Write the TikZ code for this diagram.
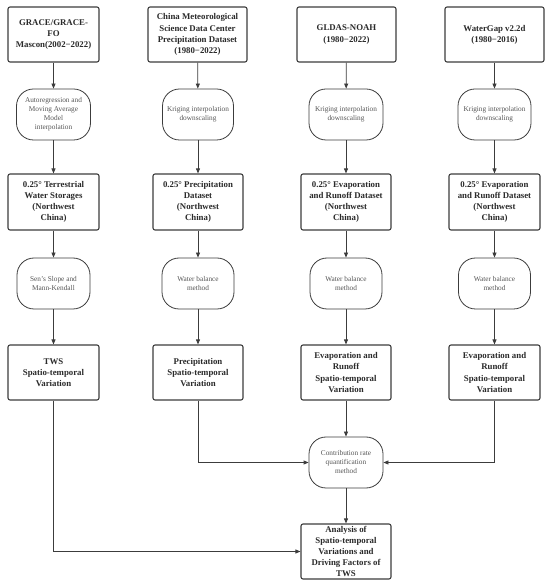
\documentclass[tikz,border=0pt]{standalone}
\usepackage{fontspec}
\setmainfont{Liberation Serif}
\usetikzlibrary{arrows.meta}
\definecolor{ln}{HTML}{3C3C3C}
\definecolor{tx}{HTML}{2A2A2A}
\definecolor{gt}{HTML}{555555}
\tikzset{
  databox/.style={draw=ln,line width=1.1pt,rounded corners=2pt,fill=white,inner sep=0pt,
    align=center,text=tx,font=\fontsize{8.8}{11.2}\selectfont\bfseries,minimum height=55pt},
  procbox/.style={draw=ln,line width=0.8pt,rounded corners=17pt,fill=white,inner sep=0pt,
    align=center,text=gt,font=\fontsize{7.3}{9}\selectfont,minimum height=51pt},
  flow/.style={draw=ln,line width=0.8pt,-{Triangle[length=5pt,width=4pt]}},
  plain/.style={draw=ln,line width=0.8pt}
}
\begin{document}
\begin{tikzpicture}[x=1pt,y=1pt]
\useasboundingbox (0,0) rectangle (550,587);
% row 1
\node[databox,minimum width=91pt] (a1) at (53.5,552.5) {GRACE/GRACE-\\FO\\Mascon(2002−2022)};
\node[databox,minimum width=99pt] (b1) at (197.5,552.5) {China Meteorological\\Science Data Center\\Precipitation Dataset\\(1980−2022)};
\node[databox,minimum width=99pt] (c1) at (346.5,552.5) {GLDAS-NOAH\\(1980−2022)};
\node[databox,minimum width=99pt] (d1) at (494.5,552.5) {WaterGap v2.2d\\(1980−2016)};
% process 1
\node[procbox,minimum width=74pt] (a2) at (53.5,472.5) {Autoregression and\\Moving Average\\Model\\interpolation};
\node[procbox,minimum width=71pt] (b2) at (198,472.5) {Kriging interpolation\\downscaling};
\node[procbox,minimum width=74pt] (c2) at (346,472.5) {Kriging interpolation\\downscaling};
\node[procbox,minimum width=73pt] (d2) at (494.5,472.5) {Kriging interpolation\\downscaling};
% row 2
\node[databox,minimum width=91pt,minimum height=56pt] (a3) at (53.5,385) {0.25° Terrestrial\\Water Storages\\(Northwest\\China)};
\node[databox,minimum width=90pt,minimum height=56pt] (b3) at (198,385) {0.25° Precipitation\\Dataset\\(Northwest\\China)};
\node[databox,minimum width=90pt,minimum height=56pt] (c3) at (346,385) {0.25° Evaporation\\and Runoff Dataset\\(Northwest\\China)};
\node[databox,minimum width=91pt,minimum height=56pt] (d3) at (494.5,385) {0.25° Evaporation\\and Runoff Dataset\\(Northwest\\China)};
% process 2
\node[procbox,minimum width=73pt] (a4) at (53.5,303.5) {Sen's Slope and\\Mann-Kendall};
\node[procbox,minimum width=72pt] (b4) at (198,303.5) {Water balance\\method};
\node[procbox,minimum width=72pt] (c4) at (346,303.5) {Water balance\\method};
\node[procbox,minimum width=72pt] (d4) at (494.5,303.5) {Water balance\\method};
% row 3
\node[databox,minimum width=91pt] (a5) at (53.5,214.5) {TWS\\Spatio-temporal\\Variation};
\node[databox,minimum width=90pt] (b5) at (198,214.5) {Precipitation\\Spatio-temporal\\Variation};
\node[databox,minimum width=90pt] (c5) at (346,214.5) {Evaporation and\\Runoff\\Spatio-temporal\\Variation};
\node[databox,minimum width=91pt] (d5) at (494.5,214.5) {Evaporation and\\Runoff\\Spatio-temporal\\Variation};
% contribution
\node[procbox,minimum width=74pt] (e) at (346,124.5) {Contribution rate\\quantification\\method};
% final
\node[databox,minimum width=90pt] (f) at (346,35.5) {Analysis of\\Spatio-temporal\\Variations and\\Driving Factors of\\TWS};
% arrows
\foreach \c in {a,b,c,d}{
  \draw[flow] (\c1) -- (\c2);
  \draw[flow] (\c2) -- (\c3);
  \draw[flow] (\c3) -- (\c4);
  \draw[flow] (\c4) -- (\c5);
}
\draw[flow] (c5) -- (e);
\draw[flow] (b5.south) |- (e.west);
\draw[flow] (d5.south) |- (e.east);
\draw[flow] (e) -- (f);
\draw[flow] (a5.south) |- (f.west);
\end{tikzpicture}
\end{document}
